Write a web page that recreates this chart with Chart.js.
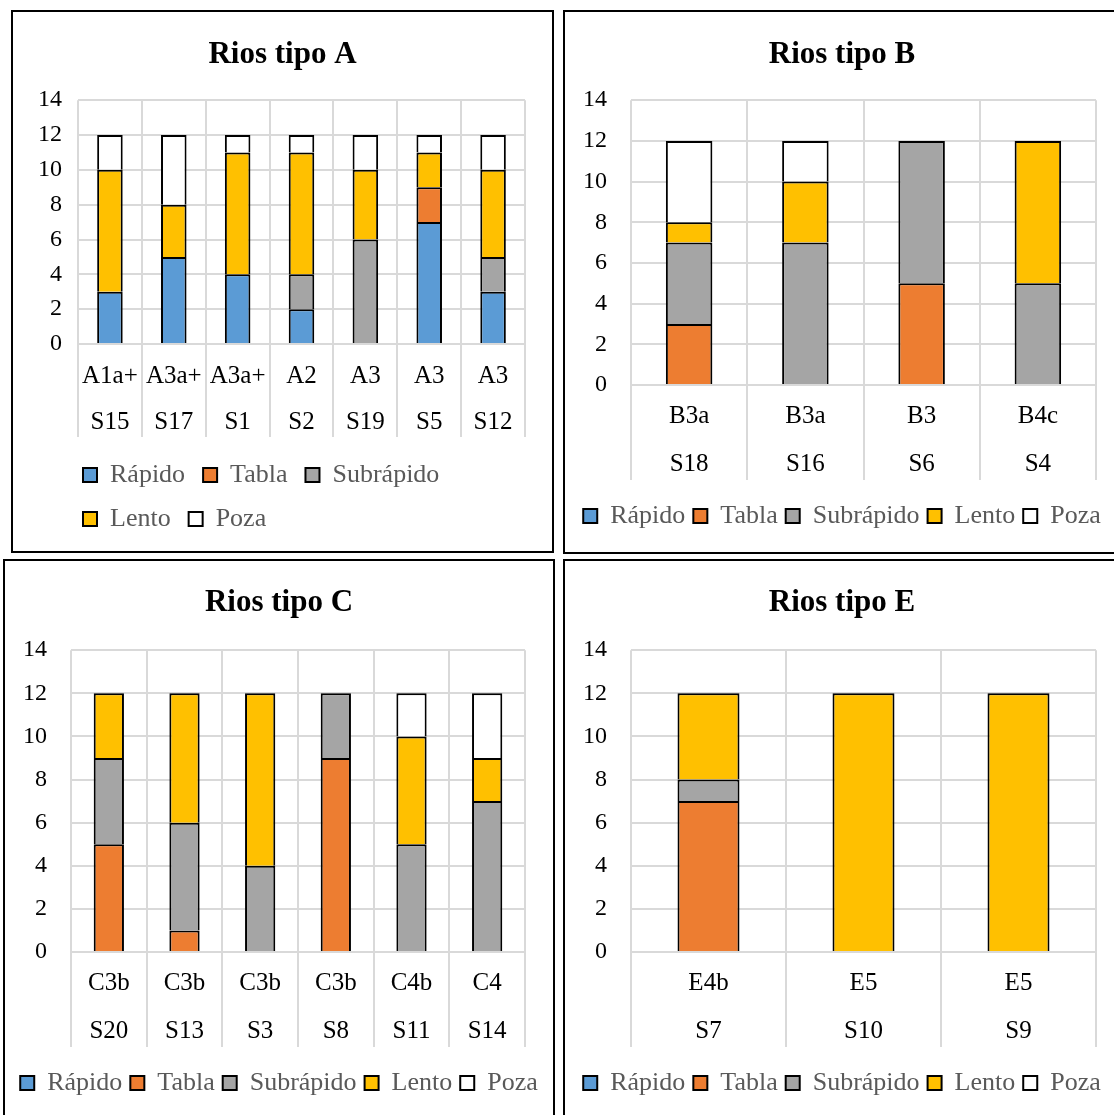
<!DOCTYPE html>
<html>
<head>
<meta charset="utf-8">
<script src="https://cdn.jsdelivr.net/npm/chart.js@4.4.1/dist/chart.umd.min.js"></script>
<style>
  html, body { margin: 0; padding: 0; background: #fff; }
  body { width: 1114px; height: 1115px; position: relative; overflow: hidden; }
  .panel { position: absolute; border: 2px solid #000; box-sizing: border-box; background: #fff; }
  .panel canvas { display: block; }
</style>
</head>
<body>
<div class="panel" style="left:11px;top:10px;width:543px;height:543px"><canvas id="chartA" width="539" height="539"></canvas></div>
<div class="panel" style="left:563px;top:10px;width:558px;height:544px"><canvas id="chartB" width="554" height="540"></canvas></div>
<div class="panel" style="left:3px;top:559px;width:552px;height:560px"><canvas id="chartC" width="548" height="556"></canvas></div>
<div class="panel" style="left:563px;top:559px;width:558px;height:560px"><canvas id="chartE" width="554" height="556"></canvas></div>
<script>
// tipos de tramo (series) y sus colores
const tramos = ["Rápido", "Tabla", "Subrápido", "Lento", "Poza"];
const colores = ["#5b9bd5", "#ed7d31", "#a5a5a5", "#ffc000", "#ffffff"];

// Rios tipo A
const tiposA = ["A1a+", "A3a+", "A3a+", "A2", "A3", "A3", "A3"];
const sitiosA = ["S15", "S17", "S1", "S2", "S19", "S5", "S12"];
const rapidoA = [3, 5, 4, 2, 0, 7, 3];
const tablaA = [0, 0, 0, 0, 0, 2, 0];
const subrapidoA = [0, 0, 0, 2, 6, 0, 2];
const lentoA = [7, 3, 7, 7, 4, 2, 5];
const pozaA = [2, 4, 1, 1, 2, 1, 2];

// Rios tipo B
const tiposB = ["B3a", "B3a", "B3", "B4c"];
const sitiosB = ["S18", "S16", "S6", "S4"];
const rapidoB = [0, 0, 0, 0];
const tablaB = [3, 0, 5, 0];
const subrapidoB = [4, 7, 7, 5];
const lentoB = [1, 3, 0, 7];
const pozaB = [4, 2, 0, 0];

// Rios tipo C
const tiposC = ["C3b", "C3b", "C3b", "C3b", "C4b", "C4"];
const sitiosC = ["S20", "S13", "S3", "S8", "S11", "S14"];
const rapidoC = [0, 0, 0, 0, 0, 0];
const tablaC = [5, 1, 0, 9, 0, 0];
const subrapidoC = [4, 5, 4, 3, 5, 7];
const lentoC = [3, 6, 8, 0, 5, 2];
const pozaC = [0, 0, 0, 0, 2, 3];

// Rios tipo E
const tiposE = ["E4b", "E5", "E5"];
const sitiosE = ["S7", "S10", "S9"];
const rapidoE = [0, 0, 0];
const tablaE = [7, 0, 0];
const subrapidoE = [1, 0, 0];
const lentoE = [4, 12, 12];
const pozaE = [0, 0, 0];

const yTicks = [0, 2, 4, 6, 8, 10, 12, 14];

Chart.defaults.font.family = '"Liberation Serif", "Times New Roman", serif';

// mueve la leyenda hacia la derecha (filas alineadas a la izquierda)
const legendShift = {
  id: "legendShift",
  afterLayout(chart, args, opts) {
    if (opts && opts.x && chart.legend) chart.legend.left += opts.x;
  },
};

function drawPanel(id, titulo, tipos, sitios, series, g) {
  const canvas = document.getElementById(id);
  const W = canvas.width;
  return new Chart(canvas, {
    type: "bar",
    data: {
      labels: tipos.map((t, i) => [t, sitios[i]]),
      datasets: series.map((vals, i) => ({
        label: tramos[i],
        data: vals,
        backgroundColor: colores[i],
        borderColor: "#000",
        borderWidth: 2,
        barPercentage: 0.4,
        categoryPercentage: 1,
      })),
    },
    options: {
      responsive: false,
      animation: false,
      layout: { padding: { left: 0, right: 0, top: 0, bottom: g.padBottom } },
      plugins: {
        title: {
          display: true,
          text: titulo,
          color: "#000",
          font: { size: 31, weight: "bold", lineHeight: 1.2 },
          padding: { top: g.titleTop, bottom: g.titleBottom },
        },
        legend: {
          position: "bottom",
          align: g.legendAlign,
          labels: {
            boxWidth: 14,
            boxHeight: 14,
            padding: g.legendPad,
            color: "#595959",
            font: { size: 26 },
          },
        },
        legendShift: { x: g.legendShift || 0 },
        tooltip: { enabled: false },
      },
      scales: {
        x: {
          stacked: true,
          grid: { color: "#d9d9d9", lineWidth: 2, offset: true, tickLength: g.tick },
          border: { color: "#d9d9d9", width: 2 },
          ticks: {
            autoSkip: false,
            maxRotation: 0,
            color: "#000",
            padding: g.labelPad,
            font: { size: 25, lineHeight: g.labelLine / 25 },
          },
          afterFit: (s) => {
            s.height = g.axisH;
            s.paddingRight = W - g.right;
          },
        },
        y: {
          stacked: true,
          min: yTicks[0],
          max: yTicks[yTicks.length - 1],
          afterBuildTicks: (s) => {
            s.ticks = yTicks.map((v) => ({ value: v }));
          },
          ticks: { color: "#000", padding: g.yPad, font: { size: 24 } },
          grid: { color: "#d9d9d9", lineWidth: 2, drawTicks: false },
          border: { display: false },
          afterFit: (s) => {
            s.width = g.left;
          },
        },
      },
    },
    plugins: [legendShift],
  });
}

drawPanel("chartA", "Rios tipo A", tiposA, sitiosA,
  [rapidoA, tablaA, subrapidoA, lentoA, pozaA],
  { left: 65, right: 512, titleTop: 24, titleBottom: 27, axisH: 100, padBottom: 9,
    tick: 93, labelPad: -84, labelLine: 46, legendPad: 18, legendAlign: "start",
    legendShift: 52, yPad: 16 });

drawPanel("chartB", "Rios tipo B", tiposB, sitiosB,
  [rapidoB, tablaB, subrapidoB, lentoB, pozaB],
  { left: 66, right: 531, titleTop: 24, titleBottom: 27, axisH: 110, padBottom: 13,
    tick: 95, labelPad: -88, labelLine: 48, legendPad: 8, legendAlign: "center", yPad: 24 });

drawPanel("chartC", "Rios tipo C", tiposC, sitiosC,
  [rapidoC, tablaC, subrapidoC, lentoC, pozaC],
  { left: 66, right: 520, titleTop: 23, titleBottom: 29, axisH: 110, padBottom: 11,
    tick: 95, labelPad: -88, labelLine: 48, legendPad: 8, legendAlign: "center", yPad: 24 });

drawPanel("chartE", "Rios tipo E", tiposE, sitiosE,
  [rapidoE, tablaE, subrapidoE, lentoE, pozaE],
  { left: 66, right: 531, titleTop: 23, titleBottom: 29, axisH: 110, padBottom: 11,
    tick: 95, labelPad: -88, labelLine: 48, legendPad: 8, legendAlign: "center", yPad: 24 });
</script>
</body>
</html>
